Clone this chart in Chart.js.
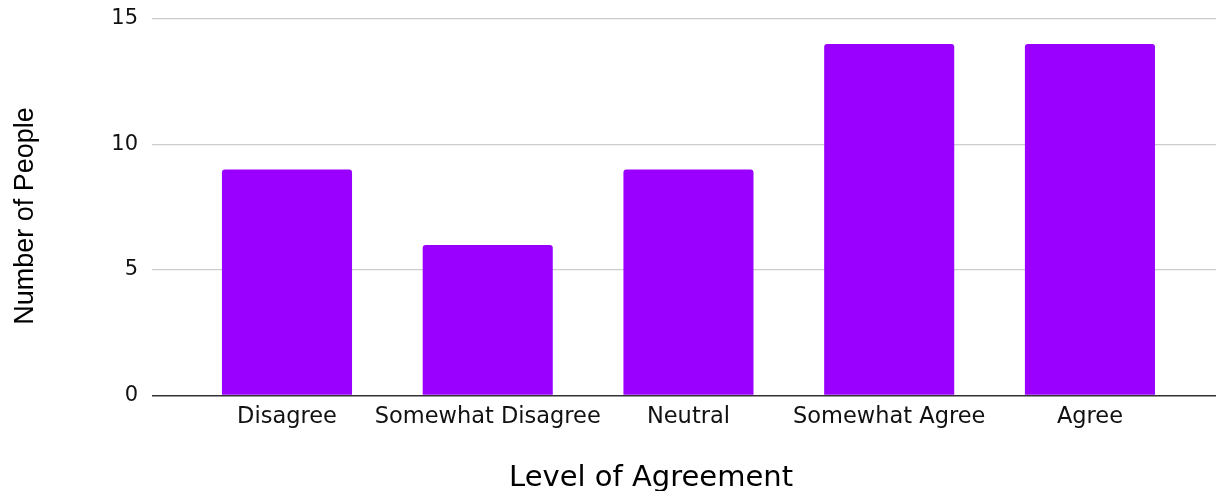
<!DOCTYPE html>
<html>
<head>
<meta charset="utf-8">
<title>Level of Agreement</title>
<script src="https://cdn.jsdelivr.net/npm/chart.js@4.4.1/dist/chart.umd.min.js"></script>
<style>
  html, body { margin: 0; padding: 0; background: #ffffff; }
  #wrap { position: relative; width: 1216px; height: 491px; }
</style>
</head>
<body>
<div id="wrap"><canvas id="chart"></canvas></div>
<script>
// Survey responses per agreement level
const categories = ["Disagree", "Somewhat Disagree", "Neutral", "Somewhat Agree", "Agree"];
const counts = [9, 6, 9, 14, 14];
const yTicks = [0, 5, 10, 15];
const xTitle = "Level of Agreement";
const yTitle = "Number of People";

const barColor = "#9900ff";

// Axis titles drawn as canvas text, placed relative to the plot area
const axisTitles = {
  id: "axisTitles",
  afterDraw(chart) {
    const { ctx, chartArea } = chart;
    ctx.save();
    ctx.fillStyle = "#000000";
    ctx.textAlign = "center";
    ctx.textBaseline = "alphabetic";
    ctx.font = "29px 'DejaVu Sans'";
    ctx.fillText(xTitle, 651, chartArea.bottom + 90.5);
    ctx.translate(33, 216);
    ctx.rotate(-Math.PI / 2);
    ctx.font = "27px 'Liberation Sans'";
    ctx.fillText(yTitle, 0, 0);
    ctx.restore();
  }
};

new Chart(document.getElementById("chart"), {
  type: "bar",
  data: {
    datasets: [{
      data: counts.map((v, i) => ({ x: i, y: v })),
      backgroundColor: barColor,
      borderWidth: 0,
      borderRadius: 3,
      categoryPercentage: 1,
      barPercentage: 0.648
    }]
  },
  options: {
    responsive: true,
    maintainAspectRatio: false,
    animation: false,
    layout: { padding: { top: 19, right: 0, bottom: 0, left: 0 } },
    plugins: {
      legend: { display: false },
      tooltip: { enabled: false }
    },
    scales: {
      x: {
        type: "linear",
        offset: false,
        min: -0.6725,
        max: 4.628,
        afterBuildTicks(scale) {
          scale.ticks = categories.map((_, i) => ({ value: i }));
        },
        afterFit(scale) {
          scale.height = 95.5;
          scale.paddingLeft = 0;
          scale.paddingRight = 0;
        },
        grid: { display: false, drawTicks: false, offset: false },
        border: { display: false },
        ticks: {
          padding: 8,
          autoSkip: false,
          maxRotation: 0,
          color: "#111111",
          font: { family: "'DejaVu Sans'", size: 22.5 },
          callback: (v) => categories[v]
        }
      },
      y: {
        min: 0,
        max: 15,
        afterBuildTicks(scale) {
          scale.ticks = yTicks.map(v => ({ value: v }));
        },
        afterFit(scale) {
          scale.width = 152;
          scale.paddingTop = 0;
          scale.paddingBottom = 0;
        },
        border: { display: false },
        grid: {
          drawTicks: false,
          color: (c) => c.tick && c.tick.value === 0 ? "#333333" : "#cccccc",
          lineWidth: (c) => c.tick && c.tick.value === 0 ? 1.5 : 1.2
        },
        ticks: {
          padding: 14,
          color: "#111111",
          font: { family: "'DejaVu Sans'", size: 21 }
        }
      }
    }
  },
  plugins: [axisTitles]
});
</script>
</body>
</html>
